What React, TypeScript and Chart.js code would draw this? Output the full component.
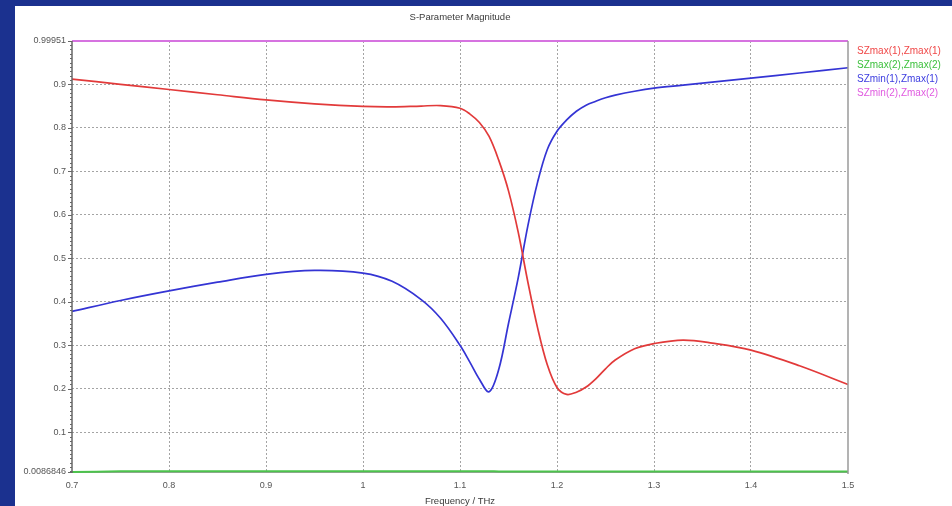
import React, { useEffect, useRef } from "react";
import { Chart, registerables } from "chart.js";

Chart.register(...registerables);

// Frequency samples (THz)
const frequencies = [
  0.7, 0.75, 0.8, 0.85, 0.9, 0.95, 1.0, 1.03, 1.06, 1.08, 1.1, 1.11, 1.12, 1.13,
  1.14, 1.15, 1.16, 1.17, 1.18, 1.19, 1.2, 1.21, 1.22, 1.23, 1.24, 1.25, 1.26,
  1.28, 1.3, 1.33, 1.36, 1.4, 1.45, 1.5,
];

// SZmax(1),Zmax(1)
const szMax1 = [
  0.912, 0.9, 0.888, 0.876, 0.864, 0.855, 0.849, 0.848, 0.85, 0.851, 0.845,
  0.832, 0.812, 0.78, 0.725, 0.655, 0.56, 0.445, 0.34, 0.255, 0.203, 0.187,
  0.192, 0.204, 0.223, 0.246, 0.266, 0.292, 0.304, 0.312, 0.305, 0.289, 0.253,
  0.21,
];

// SZmax(2),Zmax(2)
const szMax2 = [
  0.0087, 0.0102, 0.0104, 0.0105, 0.0105, 0.0105, 0.0105, 0.0105, 0.0105,
  0.0105, 0.0105, 0.0105, 0.0104, 0.0103, 0.0101, 0.0099, 0.0097, 0.0097,
  0.0097, 0.0097, 0.0097, 0.0097, 0.0097, 0.0097, 0.0097, 0.0097, 0.0097,
  0.0097, 0.0097, 0.0097, 0.0097, 0.0097, 0.0097, 0.0097,
];

// SZmin(1),Zmax(1)
const szMin1 = [
  0.378, 0.403, 0.425, 0.445, 0.463, 0.472, 0.466, 0.447, 0.405, 0.362, 0.3,
  0.262, 0.222, 0.193, 0.245, 0.35, 0.455, 0.575, 0.675, 0.75, 0.792, 0.818,
  0.838, 0.852, 0.861, 0.869, 0.875, 0.884, 0.891, 0.898, 0.905, 0.914, 0.926,
  0.938,
];

// SZmin(2),Zmax(2)
const szMin2 = [
  0.99951, 0.99951, 0.99951, 0.99951, 0.99951, 0.99951, 0.99951, 0.99951,
  0.99951, 0.99951, 0.99951, 0.99951, 0.99951, 0.99951, 0.99951, 0.99951,
  0.99951, 0.99951, 0.99951, 0.99951, 0.99951, 0.99951, 0.99951, 0.99951,
  0.99951, 0.99951, 0.99951, 0.99951, 0.99951, 0.99951, 0.99951, 0.99951,
  0.99951, 0.99951,
];

const seriesNames = [
  "SZmax(1),Zmax(1)",
  "SZmax(2),Zmax(2)",
  "SZmin(1),Zmax(1)",
  "SZmin(2),Zmax(2)",
];
const lineColors = ["#e23a3a", "#4cc34c", "#3434d4", "#d673e0"];
const legendColors = ["#f04848", "#3cc03c", "#3c3ce0", "#e05ae0"];

const yTickValues = [0.0086846, 0.1, 0.2, 0.3, 0.4, 0.5, 0.6, 0.7, 0.8, 0.9, 0.99951];
const yTickLabels = ["0.0086846", "0.1", "0.2", "0.3", "0.4", "0.5", "0.6", "0.7", "0.8", "0.9", "0.99951"];
const xTickValues = [0.7, 0.8, 0.9, 1.0, 1.1, 1.2, 1.3, 1.4, 1.5];
const xTickLabels = ["0.7", "0.8", "0.9", "1", "1.1", "1.2", "1.3", "1.4", "1.5"];

const chartTitle = "S-Parameter Magnitude";
const xAxisTitle = "Frequency / THz";

const FONT = '"Liberation Sans", Arial, sans-serif';

const frame = {
  id: "frame",
  beforeDatasetsDraw(chart: any) {
    const { ctx, chartArea: a } = chart;
    ctx.save();
    ctx.strokeStyle = "#a0a0a0";
    ctx.lineWidth = 1;
    ctx.beginPath();
    ctx.moveTo(a.left, a.bottom + 0.5);
    ctx.lineTo(a.right, a.bottom + 0.5);
    ctx.moveTo(a.left, a.top + 0.5);
    ctx.lineTo(a.right, a.top + 0.5);
    ctx.stroke();
    ctx.restore();
  },
  afterDraw(chart: any) {
    const { ctx, chartArea: a, scales } = chart;
    const y = scales.y;
    const cx = (a.left + a.right) / 2;
    ctx.save();

    // title and axis caption
    ctx.fillStyle = "#3a3a3a";
    ctx.font = `9.5px ${FONT}`;
    ctx.textAlign = "center";
    ctx.textBaseline = "middle";
    ctx.fillText(chartTitle, cx, 11);
    ctx.fillText(xAxisTitle, cx, 495);

    // legend
    ctx.font = `10px ${FONT}`;
    ctx.textAlign = "left";
    seriesNames.forEach((name, i) => {
      ctx.fillStyle = legendColors[i];
      ctx.fillText(name, a.right + 9, 45 + i * 14);
    });

    // left axis with minor ticks
    ctx.strokeStyle = "#666";
    ctx.lineWidth = 1.5;
    ctx.beginPath();
    ctx.moveTo(a.left, a.top);
    ctx.lineTo(a.left, a.bottom + 1);
    ctx.stroke();
    ctx.lineWidth = 1;
    ctx.beginPath();
    for (let v = 0.01; v < 0.995; v += 0.01) {
      const py = Math.round(y.getPixelForValue(v)) + 0.5;
      ctx.moveTo(a.left - 2, py);
      ctx.lineTo(a.left, py);
    }
    yTickValues.forEach((v) => {
      const py = Math.round(y.getPixelForValue(v)) + 0.5;
      ctx.moveTo(a.left - 4, py);
      ctx.lineTo(a.left, py);
    });
    ctx.stroke();

    // right border
    ctx.strokeStyle = "#9a9a9a";
    ctx.lineWidth = 1.5;
    ctx.beginPath();
    ctx.moveTo(a.right, a.top);
    ctx.lineTo(a.right, a.bottom + 2);
    ctx.stroke();

    ctx.restore();
  },
};

export default function App() {
  const canvasRef = useRef<HTMLCanvasElement | null>(null);

  useEffect(() => {
    if (!canvasRef.current) return;
    const series = [szMax1, szMax2, szMin1, szMin2];
    const chart = new Chart(canvasRef.current, {
      type: "line",
      data: {
        datasets: series.map((vals, i) => ({
          label: seriesNames[i],
          data: frequencies.map((f, j) => ({ x: f, y: vals[j] })),
          borderColor: lineColors[i],
          backgroundColor: lineColors[i],
          borderWidth: i === 0 || i === 2 ? 1.7 : 2,
          pointRadius: 0,
          tension: 0.35,
          clip: 3,
        })),
      },
      options: {
        animation: false,
        responsive: false,
        events: [],
        layout: { padding: { top: 35, right: 104, left: 0, bottom: 0 } },
        plugins: { legend: { display: false }, title: { display: false }, tooltip: { enabled: false } },
        scales: {
          x: {
            type: "linear",
            min: 0.7,
            max: 1.5,
            afterFit: (s: any) => {
              s.height = 34;
            },
            afterBuildTicks: (s: any) => {
              s.ticks = xTickValues.map((v) => ({ value: v }));
            },
            ticks: {
              autoSkip: false,
              maxRotation: 0,
              padding: 8,
              color: "#555",
              font: { family: FONT, size: 9 },
              callback: (_v: any, i: number) => xTickLabels[i],
            },
            grid: {
              drawTicks: false,
              color: (c: any) =>
                c.tick && (c.tick.value === 0.7 || c.tick.value === 1.5) ? "rgba(0,0,0,0)" : "#a4a4a4",
              lineWidth: 1,
            },
            border: { display: false, dash: [2, 2] },
          },
          y: {
            type: "linear",
            min: 0.0086846,
            max: 0.99951,
            afterFit: (s: any) => {
              s.width = 57;
            },
            afterBuildTicks: (s: any) => {
              s.ticks = yTickValues.map((v) => ({ value: v }));
            },
            ticks: {
              autoSkip: false,
              padding: 6,
              color: "#555",
              font: { family: FONT, size: 9 },
              callback: (_v: any, i: number) => yTickLabels[i],
            },
            grid: {
              drawTicks: false,
              color: (c: any) =>
                c.tick && (c.tick.value === 0.0086846 || c.tick.value === 0.99951)
                  ? "rgba(0,0,0,0)"
                  : "#a4a4a4",
              lineWidth: 1,
            },
            border: { display: false, dash: [2, 2] },
          },
        },
      },
      plugins: [frame],
    } as any);
    return () => chart.destroy();
  }, []);

  return (
    <div
      style={{
        position: "fixed",
        left: 0,
        top: 0,
        width: 952,
        height: 506,
        background: "#1b318f",
        overflow: "hidden",
      }}
    >
      <div
        style={{
          position: "absolute",
          left: 15,
          top: 6,
          width: 937,
          height: 500,
          background: "#fff",
        }}
      >
        <canvas ref={canvasRef} width={937} height={500} style={{ display: "block" }} />
      </div>
    </div>
  );
}
